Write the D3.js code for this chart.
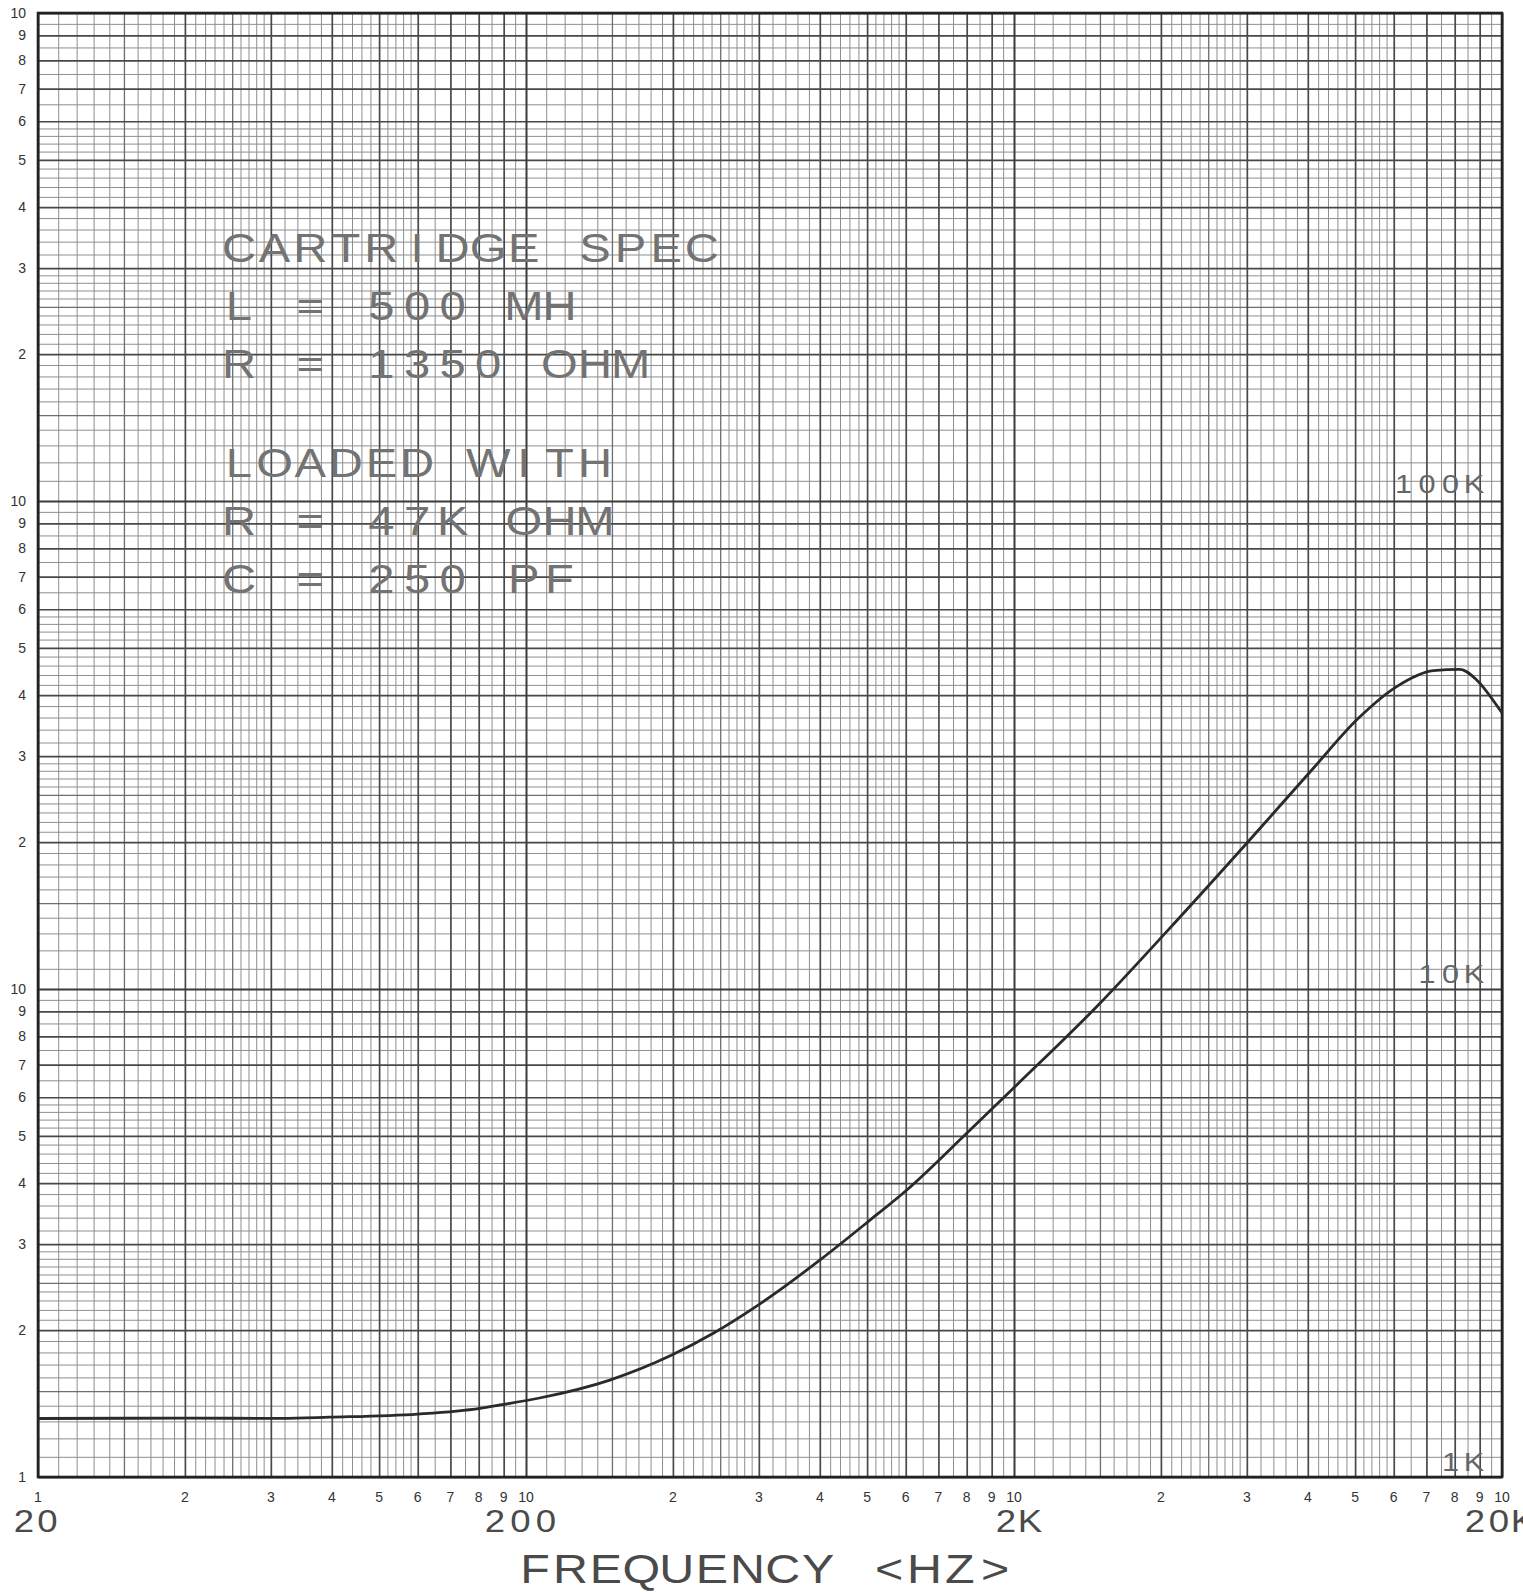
<!DOCTYPE html>
<html>
<head>
<meta charset="utf-8">
<script src="https://cdn.jsdelivr.net/npm/d3@7"></script>
<style>
body { margin: 0; background: #fff; }
</style>
</head>
<body>
<div id="chart"></div>
<script>
// Impedance curve (Hz, ohm)
const freqHz = [20, 40, 63, 79, 120, 161, 177, 212, 297, 398, 484, 598, 801, 1005, 1206, 1600, 2026, 3001, 4079, 5997, 8211, 10152, 12168, 14463, 16403, 17747, 19810, 20000];
const impedanceOhm = [1318, 1320, 1319, 1326, 1346, 1383, 1405, 1450, 1580, 1778, 1970, 2250, 2785, 3337, 3874, 5063, 6357, 9350, 13000, 19890, 28340, 35860, 41650, 44900, 45200, 42970, 37300, 36800];

// Paper cycles
const xDecades = [20, 200, 2000];
const yDecades = [1e3, 1e4, 1e5];
const cycleMantissas = [1, 2, 3, 4, 5, 6, 7, 8, 9, 10];
const cycleLabels = ["1", "2", "3", "4", "5", "6", "7", "8", "9", "10"];

// Hand lettered labels
const freqLabels = ["20", "200", "2K", "20K"];
const freqLabelValues = [20, 200, 2000, 20000];
const ohmLabels = ["100K", "10K", "1K"];
const ohmLabelValues = [1e5, 1e4, 1e3];
const noteLines = ["CARTRIDGE SPEC", "L = 500 MH", "R = 1350 OHM", "", "LOADED WITH", "R = 47K OHM", "C = 250 PF"];
const axisTitle = "FREQUENCY <HZ>";

// grid subdivisions inside one cycle: [from, to, step]
const gridSteps = [[1, 3, 0.1], [3, 6, 0.2], [6, 10, 0.5]];

const width = 1523, height = 1592;
const margin = { top: 13, right: 21, bottom: 115, left: 38 };
const plotW = width - margin.left - margin.right;
const plotH = height - margin.top - margin.bottom;

const svg = d3.select("#chart")
    .append("svg")
    .attr("width", width)
    .attr("height", height)
    .style("font-family", "'Liberation Sans', Arial, sans-serif");

const x = d3.scaleLog().domain([20, 20000]).range([margin.left, margin.left + plotW]);
const y = d3.scaleLog().domain([1e3, 1e6]).range([margin.top + plotH, margin.top]);

// mantissas of every printed line in a cycle
const mantissas = [];
gridSteps.forEach(([a, b, s]) => {
    for (let v = a; v < b - 1e-9; v += s) mantissas.push(+v.toFixed(2));
});

function kindOf(m) {
    if (m === 1) return "decade";
    if (Number.isInteger(m)) return "major";
    if (m === 1.5 || m === 2.5) return "mid";
    return "minor";
}

function gridValues(decades, kind) {
    const out = [];
    decades.forEach(d => mantissas.forEach(m => { if (kindOf(m) === kind) out.push(d * m); }));
    if (kind === "decade") out.push(decades[decades.length - 1] * 10);
    return out;
}

const gridStyle = {
    minor: { color: "#8e8e8e", w: 1 },
    mid: { color: "#6e6e6e", w: 1.3 },
    major: { color: "#484848", w: 1.7 },
    decade: { color: "#3a3a3a", w: 2 }
};

["minor", "mid", "major", "decade"].forEach(kind => {
    const st = gridStyle[kind];
    // vertical lines
    svg.append("g")
        .attr("transform", `translate(0,${margin.top + plotH})`)
        .call(d3.axisBottom(x).tickValues(gridValues(xDecades, kind)).tickSize(-plotH).tickFormat(""))
        .call(g => g.select(".domain").remove())
        .selectAll("line")
        .attr("stroke", st.color)
        .attr("stroke-width", st.w);
    // horizontal lines
    svg.append("g")
        .attr("transform", `translate(${margin.left},0)`)
        .call(d3.axisLeft(y).tickValues(gridValues(yDecades, kind)).tickSize(-plotW).tickFormat(""))
        .call(g => g.select(".domain").remove())
        .selectAll("line")
        .attr("stroke", st.color)
        .attr("stroke-width", st.w);
});

// frame
svg.append("rect")
    .attr("x", margin.left)
    .attr("y", margin.top)
    .attr("width", plotW)
    .attr("height", plotH)
    .attr("fill", "none")
    .attr("stroke", "#222")
    .attr("stroke-width", 2.6);

// printed cycle numbers
const xTicks = [];
xDecades.forEach((d, k) => {
    cycleMantissas.forEach((m, i) => {
        if (i === 0 && k > 0) return;
        xTicks.push({ v: d * m, label: cycleLabels[i] });
    });
});
svg.append("g").selectAll("text")
    .data(xTicks)
    .join("text")
    .attr("x", d => x(d.v))
    .attr("y", 1502)
    .attr("text-anchor", "middle")
    .attr("font-size", 14)
    .attr("fill", "#333")
    .text(d => d.label);

const yTicks = [];
yDecades.forEach((d, k) => {
    cycleMantissas.forEach((m, i) => {
        if (i === 0 && k > 0) return;
        yTicks.push({ v: d * m, label: cycleLabels[i] });
    });
});
svg.append("g").selectAll("text")
    .data(yTicks)
    .join("text")
    .attr("x", 26)
    .attr("y", d => y(d.v))
    .attr("dy", "0.36em")
    .attr("text-anchor", "end")
    .attr("font-size", 14)
    .attr("fill", "#333")
    .text(d => d.label);

// impedance curve
const line = d3.line()
    .x(d => x(d[0]))
    .y(d => y(d[1]))
    .curve(d3.curveMonotoneX);

svg.append("path")
    .datum(d3.zip(freqHz, impedanceOhm))
    .attr("d", line)
    .attr("fill", "none")
    .attr("stroke", "#2a2a2a")
    .attr("stroke-width", 2.8)
    .attr("stroke-linejoin", "round");

// lettering guide style: every character sits in a fixed-width slot,
// glyphs a little wider than the font draws them
const stretch = 1.18;
function letter(g, str, cx0, y0, size, adv, color) {
    const xs = Array.from(str, (c, i) => ((cx0 + i * adv) / stretch).toFixed(1));
    g.append("text")
        .attr("transform", `scale(${stretch},1)`)
        .attr("x", xs.join(" "))
        .attr("y", y0)
        .attr("font-size", size)
        .attr("fill", color)
        .attr("text-anchor", "middle")
        .text(str);
}

const notes = svg.append("g");
const noteBase = [262, 320, 378, 0, 477, 535, 593];
noteLines.forEach((s, i) => {
    if (!s) return;
    letter(notes, s, 239, noteBase[i], 40, 35.6, "#737373");
});

const freqFirst = [24, 495, 1006, 1475];
const freqAdv = [23.5, 25.5, 24, 24];
freqLabels.forEach((s, i) => {
    letter(svg, s, freqFirst[i], 1532, 31, freqAdv[i], "#4a4a4a");
});

const ohmOff = [8, 6, 6];
ohmLabels.forEach((s, i) => {
    const adv = 23.5;
    letter(svg, s, 1474 - (s.length - 1) * adv, y(ohmLabelValues[i]) - ohmOff[i], 26, adv, "#666");
});

letter(svg, axisTitle, 535, 1583, 41, 35.4, "#4a4a4a");
</script>
</body>
</html>
